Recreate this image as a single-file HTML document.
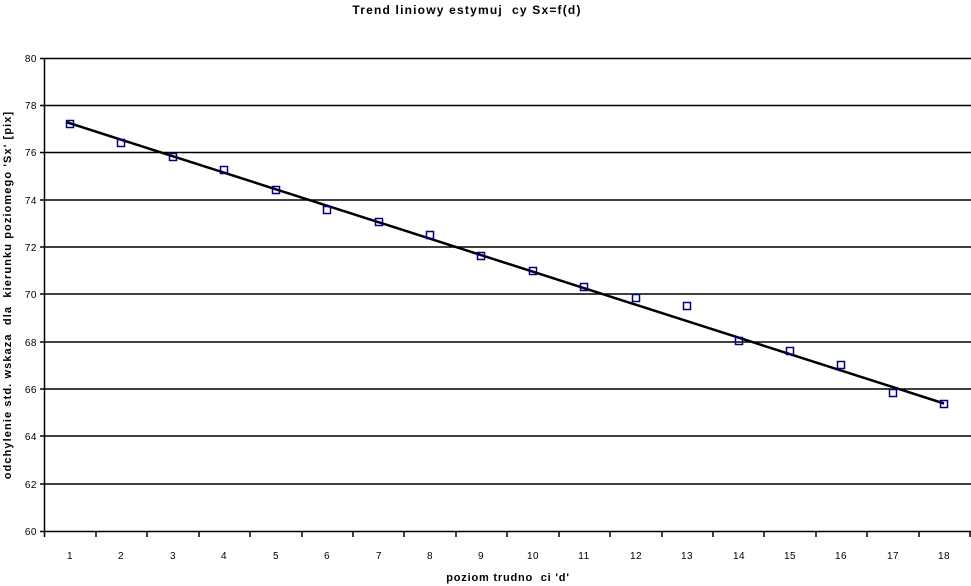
<!DOCTYPE html>
<html><head><meta charset="utf-8"><style>
html,body{margin:0;padding:0;background:#fff;}
svg{display:block;font-family:"Liberation Sans",Arial,sans-serif;}
text{white-space:pre;}
</style></head><body>
<svg width="971" height="586" xmlns="http://www.w3.org/2000/svg" xml:space="preserve">
<text x="467" y="14" text-anchor="middle" font-size="12" font-weight="bold" letter-spacing="1.2">Trend liniowy estymuj  cy Sx=f(d)</text>
<g stroke="#000" stroke-width="1.5">
<line x1="44" y1="58.5" x2="971" y2="58.5"/>
<line x1="44" y1="105.5" x2="971" y2="105.5"/>
<line x1="44" y1="152.5" x2="971" y2="152.5"/>
<line x1="44" y1="200" x2="971" y2="200"/>
<line x1="44" y1="247" x2="971" y2="247"/>
<line x1="44" y1="294" x2="971" y2="294"/>
<line x1="44" y1="342" x2="971" y2="342"/>
<line x1="44" y1="389" x2="971" y2="389"/>
<line x1="44" y1="436" x2="971" y2="436"/>
<line x1="44" y1="484" x2="971" y2="484"/>
<line x1="44" y1="531.5" x2="971" y2="531.5"/>
<line x1="44.5" y1="58" x2="44.5" y2="532"/>
</g>
<g stroke="#000" stroke-width="1.5">
<line x1="40" y1="58.5" x2="44" y2="58.5"/><line x1="40" y1="105.5" x2="44" y2="105.5"/><line x1="40" y1="152.5" x2="44" y2="152.5"/><line x1="40" y1="200" x2="44" y2="200"/><line x1="40" y1="247" x2="44" y2="247"/><line x1="40" y1="294" x2="44" y2="294"/><line x1="40" y1="342" x2="44" y2="342"/><line x1="40" y1="389" x2="44" y2="389"/><line x1="40" y1="436" x2="44" y2="436"/><line x1="40" y1="484" x2="44" y2="484"/><line x1="40" y1="531.5" x2="44" y2="531.5"/>
<line x1="44.5" y1="531" x2="44.5" y2="537"/><line x1="96" y1="531" x2="96" y2="537"/><line x1="147" y1="531" x2="147" y2="537"/><line x1="199" y1="531" x2="199" y2="537"/><line x1="250" y1="531" x2="250" y2="537"/><line x1="302" y1="531" x2="302" y2="537"/><line x1="353" y1="531" x2="353" y2="537"/><line x1="404" y1="531" x2="404" y2="537"/><line x1="456" y1="531" x2="456" y2="537"/><line x1="507" y1="531" x2="507" y2="537"/><line x1="559" y1="531" x2="559" y2="537"/><line x1="610" y1="531" x2="610" y2="537"/><line x1="662" y1="531" x2="662" y2="537"/><line x1="713" y1="531" x2="713" y2="537"/><line x1="764" y1="531" x2="764" y2="537"/><line x1="816" y1="531" x2="816" y2="537"/><line x1="867" y1="531" x2="867" y2="537"/><line x1="919" y1="531" x2="919" y2="537"/><line x1="970" y1="531" x2="970" y2="537"/>
</g>
<g font-size="10" text-anchor="end" letter-spacing="0.5">
<text x="37" y="62">80</text><text x="37" y="109">78</text><text x="37" y="156">76</text><text x="37" y="204">74</text><text x="37" y="251">72</text><text x="37" y="298">70</text><text x="37" y="346">68</text><text x="37" y="393">66</text><text x="37" y="440">64</text><text x="37" y="488">62</text><text x="37" y="535">60</text>
</g>
<g font-size="10" text-anchor="middle" letter-spacing="0.5">
<text x="70" y="559">1</text><text x="121" y="559">2</text><text x="173" y="559">3</text><text x="224" y="559">4</text><text x="276" y="559">5</text><text x="327" y="559">6</text><text x="379" y="559">7</text><text x="430" y="559">8</text><text x="481" y="559">9</text><text x="533" y="559">10</text><text x="584" y="559">11</text><text x="636" y="559">12</text><text x="687" y="559">13</text><text x="739" y="559">14</text><text x="790" y="559">15</text><text x="841" y="559">16</text><text x="893" y="559">17</text><text x="944" y="559">18</text>
</g>
<text x="508" y="581" text-anchor="middle" font-size="11" font-weight="bold" letter-spacing="0.8">poziom trudno  ci 'd'</text>
<text transform="translate(11,295) rotate(-90)" text-anchor="middle" font-size="11" font-weight="bold" letter-spacing="1.1">odchylenie std. wskaza  dla  kierunku poziomego 'Sx' [pix]</text>
<line x1="66" y1="122" x2="944" y2="403.5" stroke="#000" stroke-width="2.5"/>
<g fill="none" stroke="#000080" stroke-width="1.5">
<rect x="66.5" y="120.5" width="7" height="7"/>
<rect x="117.5" y="139.5" width="7" height="7"/>
<rect x="169.5" y="153.5" width="7" height="7"/>
<rect x="220.5" y="166.5" width="7" height="7"/>
<rect x="272.5" y="186.5" width="7" height="7"/>
<rect x="323.5" y="206.5" width="7" height="7"/>
<rect x="375.5" y="218.5" width="7" height="7"/>
<rect x="426.5" y="231.5" width="7" height="7"/>
<rect x="477.5" y="252.5" width="7" height="7"/>
<rect x="529.5" y="267.5" width="7" height="7"/>
<rect x="580.5" y="283.5" width="7" height="7"/>
<rect x="632.5" y="294.5" width="7" height="7"/>
<rect x="683.5" y="302.5" width="7" height="7"/>
<rect x="735.5" y="337.5" width="7" height="7"/>
<rect x="786.5" y="347.5" width="7" height="7"/>
<rect x="837.5" y="361.5" width="7" height="7"/>
<rect x="889.5" y="389.5" width="7" height="7"/>
<rect x="940.5" y="400.5" width="7" height="7"/>
</g>
</svg>
</body></html>
